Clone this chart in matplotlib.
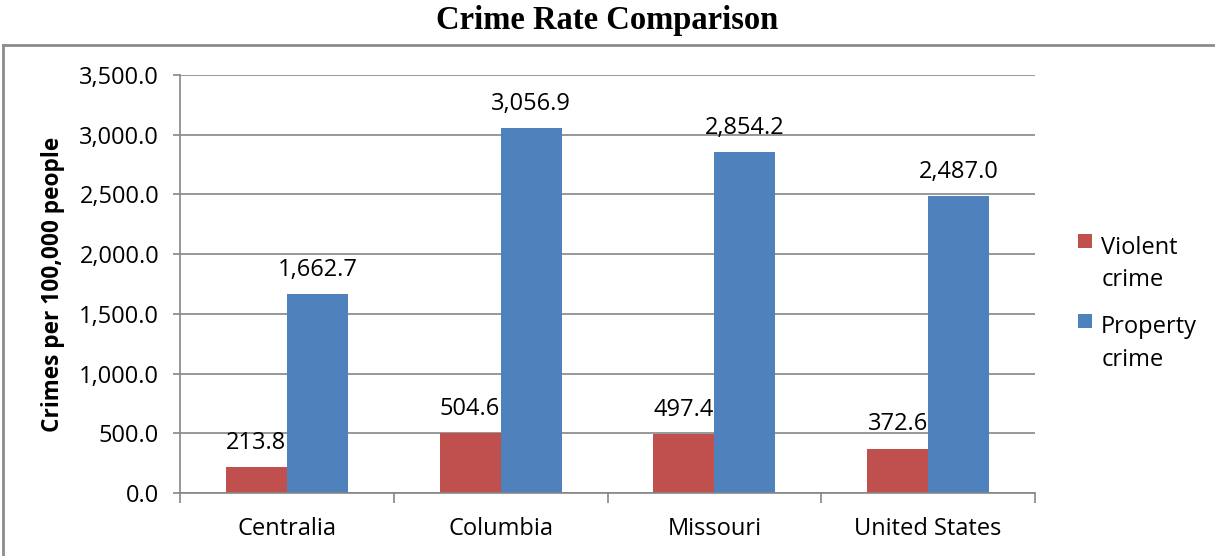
import numpy as np
import matplotlib.pyplot as plt
from matplotlib.lines import Line2D
from matplotlib.patches import Rectangle
from matplotlib.container import BarContainer
from matplotlib.legend_handler import HandlerPatch

places = ["Centralia", "Columbia", "Missouri", "United States"]
violent = [213.8, 504.6, 497.4, 372.6]
property_crime = [1662.7, 3056.9, 2854.2, 2487.0]
yticks = [0, 500, 1000, 1500, 2000, 2500, 3000, 3500]

RED = "#C0504D"
BLUE = "#4F81BD"
GRID = "#868686"
FS = 17

plt.rcParams['font.family'] = ['Open Sans', 'DejaVu Sans']


def top_square(legend, orig_handle, xdescent, ydescent, width, height, fontsize):
    # square key next to the first line of a two-line label
    sq = width
    return Rectangle((-xdescent, -ydescent + height - sq + 0.47 * fontsize), sq, sq)


def from_first_bar(tgt, src):
    tgt.update_from(src.patches[0])


def main():
    fig = plt.figure(figsize=(12.15, 5.56), dpi=100)
    ax = fig.add_axes([180 / 1215, 63 / 556, 855 / 1215, 418 / 556])

    x = np.arange(len(places))
    w = 1 / 3.5
    b1 = ax.bar(x - w / 2, violent, w, color=RED, label="Violent\ncrime")
    b2 = ax.bar(x + w / 2, property_crime, w, color=BLUE, label="Property\ncrime")

    for bars, vals in [(b1, violent), (b2, property_crime)]:
        for rect, v in zip(bars, vals):
            ax.annotate(f"{v:,.1f}", (rect.get_x() + rect.get_width() / 2, v),
                        xytext=(0, 13), textcoords="offset points",
                        ha="center", va="baseline", fontsize=FS)

    ax.set_xlim(-0.5, len(places) - 0.5)
    ax.set_ylim(0, 3500)
    ax.set_yticks(yticks)
    ax.set_yticklabels([f"{v:,.1f}" for v in yticks], fontsize=FS)
    ax.yaxis.grid(True, color=GRID, lw=1.2)
    ax.set_axisbelow(True)

    ax.set_xticks(x)
    ax.set_xticklabels(places, fontsize=FS)
    ax.tick_params(axis="x", length=0, pad=17)
    ax.set_xticks(np.arange(len(places) + 1) - 0.5, minor=True)
    ax.tick_params(axis="x", which="minor", length=7, color=GRID, width=1.2, direction="out")
    ax.tick_params(axis="y", length=5, color=GRID, width=1.2, direction="out", pad=10)

    for s in ["top", "right"]:
        ax.spines[s].set_visible(False)
    for s in ["left", "bottom"]:
        ax.spines[s].set_color(GRID)
        ax.spines[s].set_linewidth(1.2)

    ax.set_ylabel("Crimes per 100,000 people", fontsize=16.3, fontweight="bold", labelpad=10)

    fig.text(0.5, 1 - 21 / 556, "Crime Rate Comparison", ha="center", va="center",
             fontsize=23.5, fontweight="bold", family=["Liberation Serif", "DejaVu Serif"])

    handler = HandlerPatch(patch_func=top_square, update_func=from_first_bar)
    leg = ax.legend(loc="center left", bbox_to_anchor=(1.025, 0.453), frameon=False,
                    fontsize=FS, handlelength=0.6, handleheight=2.3, handletextpad=0.4,
                    labelspacing=1.0, handler_map={BarContainer: handler})
    for t in leg.get_texts():
        t.set_linespacing(1.45)

    # outer border (top and left only visible)
    fig.add_artist(Line2D([3 / 1215, 1], [1 - 45 / 556, 1 - 45 / 556], color="#8c8c8c", lw=2,
                          transform=fig.transFigure))
    fig.add_artist(Line2D([3 / 1215, 3 / 1215], [0, 1 - 45 / 556], color="#8c8c8c", lw=2,
                          transform=fig.transFigure))

    fig.savefig("out.png", dpi=100)


if __name__ == "__main__":
    main()
